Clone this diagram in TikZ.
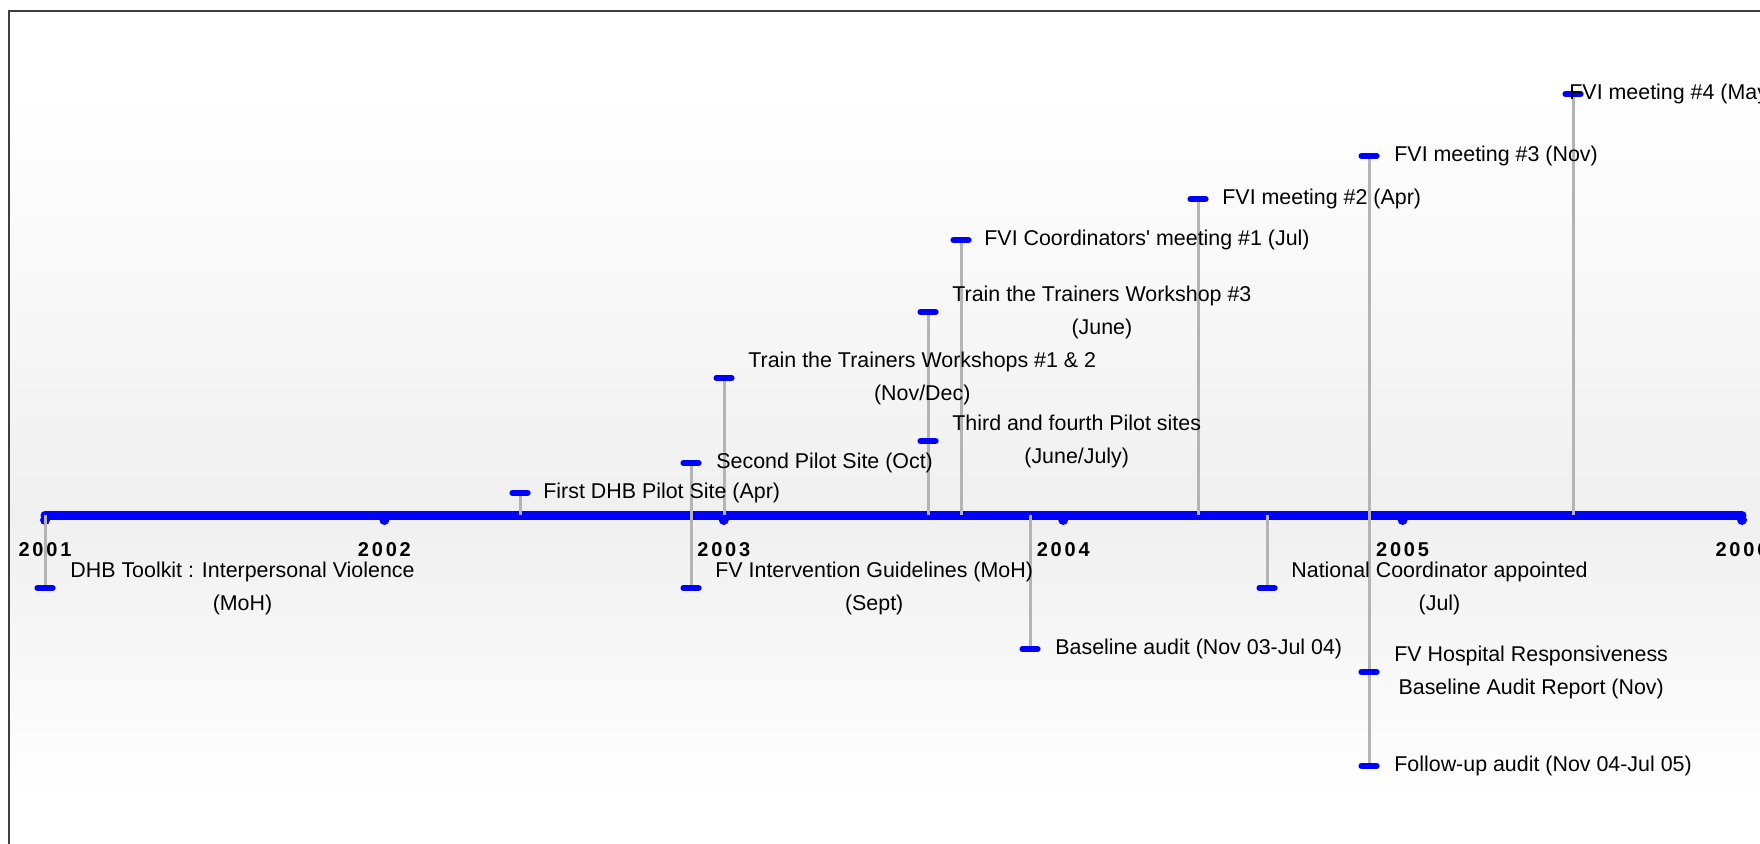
\documentclass[tikz,border=0pt]{standalone}
\usepackage{fontspec}
\setmainfont{Liberation Sans}
\newfontfamily\yearfont[LetterSpace=14]{Liberation Sans}
\definecolor{bgmid}{RGB}{240,240,240}
\definecolor{stemgray}{RGB}{180,180,180}
\definecolor{framegray}{RGB}{64,64,64}
\tikzstyle{evbar}=[fill=blue, rounded corners=1.2pt, minimum width=10.5pt, minimum height=2.8pt, inner sep=0pt]
\tikzstyle{evtext}=[anchor=west, align=center, inner sep=0pt, font=\fontsize{10.7pt}{16.5pt}\selectfont]
\tikzstyle{stem}=[draw=stemgray, line width=1.5pt]
\tikzstyle{axisline}=[draw=blue, line width=4.5pt, line cap=round]
\tikzstyle{yearlabel}=[font=\yearfont\bfseries\fontsize{10pt}{12pt}\selectfont, inner sep=0pt]

\begin{document}
\begin{tikzpicture}[x=0.5pt, y=-0.5pt]
                    \useasboundingbox (0,0) rectangle (1760,844);
                    \clip (0,0) rectangle (1760,844);
                    \fill[white] (0,0) rectangle (1760,844);
                    \shade[top color=white, bottom color=bgmid] (9,95) rectangle (1760,515);
                    \shade[top color=bgmid, bottom color=white] (9,515) rectangle (1760,800);
                    \draw[framegray, line width=1pt] (9,900) -- (9,11) -- (1800,11);
                    \foreach \yr [count=\i from 0] in {2001,...,2006}
                        \coordinate (y\yr) at (45+339.4*\i,515);
                    \draw[axisline] (y2001) -- (y2006);
                    \foreach \yr in {2001,...,2006} {
                        \fill[blue] (y\yr) ++(0,5) circle[radius=2.5pt];
                        \node[yearlabel] (l\yr) at ([yshift=-17.5pt]y\yr) {\yr};
                    }
                    \coordinate (toolkit) at (45,588);
                    \coordinate (firstpilot) at (520,493);
                    \coordinate (secondpilot) at (691,463);
                    \coordinate (guidelines) at (691,588);
                    \coordinate (workshops12) at (724,378);
                    \coordinate (pilots34) at (928,441);
                    \coordinate (workshop3) at (928,312);
                    \coordinate (coord1) at (961,240);
                    \coordinate (baseline) at (1030,649);
                    \coordinate (meeting2) at (1198,199);
                    \coordinate (natcoord) at (1267,588);
                    \coordinate (meeting3) at (1369,156);
                    \coordinate (hospital) at (1369,672);
                    \coordinate (followup) at (1369,766);
                    \coordinate (meeting4) at (1573,94);
                    \draw[stem] (toolkit) -- (toolkit |- y2001);
                    \draw[stem] (firstpilot) -- (firstpilot |- y2001);
                    \draw[stem] (secondpilot) -- (guidelines);
                    \draw[stem] (workshops12) -- (workshops12 |- y2001);
                    \draw[stem] (workshop3) -- (workshop3 |- y2001);
                    \draw[stem] (coord1) -- (coord1 |- y2001);
                    \draw[stem] (baseline) -- (baseline |- y2001);
                    \draw[stem] (meeting2) -- (meeting2 |- y2001);
                    \draw[stem] (natcoord) -- (natcoord |- y2001);
                    \draw[stem] (meeting3) -- (followup);
                    \draw[stem] (meeting4) -- (meeting4 |- y2001);
                    \foreach \ev in {toolkit,firstpilot,secondpilot,guidelines,workshops12,pilots34,workshop3,coord1,baseline,meeting2,natcoord,meeting3,hospital,followup,meeting4}
                        \node[evbar] (bar-\ev) at (\ev) {};
                    \node[evtext] (txt-toolkit) at ([xshift=12.5pt]toolkit) {DHB Toolkit : Interpersonal Violence\\(MoH)};
                    \node[evtext] (txt-firstpilot) at ([xshift=11.5pt]firstpilot) {First DHB Pilot Site (Apr)};
                    \node[evtext] (txt-secondpilot) at ([xshift=12.5pt]secondpilot) {Second Pilot Site (Oct)};
                    \node[evtext] (txt-guidelines) at ([xshift=12pt]guidelines) {FV Intervention Guidelines (MoH)\\(Sept)};
                    \node[evtext] (txt-workshops12) at ([xshift=12pt]workshops12) {Train the Trainers Workshops \#1 \& 2\\(Nov/Dec)};
                    \node[evtext] (txt-pilots34) at ([xshift=12pt]pilots34) {Third and fourth Pilot sites\\(June/July)};
                    \node[evtext] (txt-workshop3) at ([xshift=12pt]workshop3) {Train the Trainers Workshop \#3\\(June)};
                    \node[evtext] (txt-coord1) at ([xshift=11.5pt]coord1) {FVI Coordinators\textquotesingle{} meeting \#1 (Jul)};
                    \node[evtext] (txt-baseline) at ([xshift=12.5pt]baseline) {Baseline audit (Nov 03-Jul 04)};
                    \node[evtext] (txt-meeting2) at ([xshift=12pt]meeting2) {FVI meeting \#2 (Apr)};
                    \node[evtext] (txt-natcoord) at ([xshift=12pt]natcoord) {National Coordinator appointed\\(Jul)};
                    \node[evtext] (txt-meeting3) at ([xshift=12.5pt]meeting3) {FVI meeting \#3 (Nov)};
                    \node[evtext] (txt-hospital) at ([xshift=12.5pt]hospital) {FV Hospital Responsiveness\\Baseline Audit Report (Nov)};
                    \node[evtext] (txt-followup) at ([xshift=12.5pt]followup) {Follow-up audit (Nov 04-Jul 05)};
                    \node[evtext] (txt-meeting4) at ([xshift=-2pt]meeting4) {FVI meeting \#4 (May)};
                    \end{tikzpicture}
\end{document}
